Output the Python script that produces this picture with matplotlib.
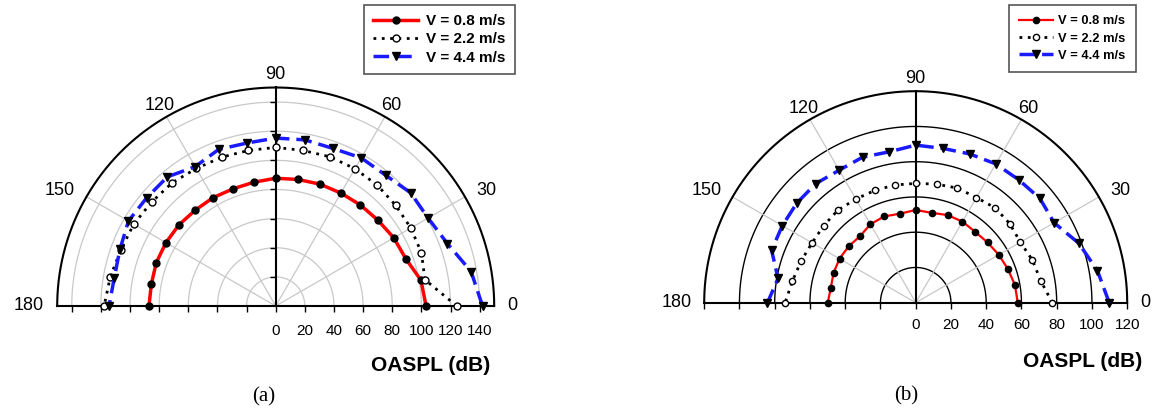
import numpy as np
import matplotlib
matplotlib.use('Agg')
import matplotlib.pyplot as plt

plt.rcParams['font.family'] = 'Liberation Sans'

# directivity angles (deg) and OASPL (dB)
angles = [0, 10, 20, 30, 40, 50, 60, 70, 80, 90, 100, 110, 120, 130, 140, 150, 160, 170, 180]

a_v08 = [103.2, 101.3, 95.0, 93.6, 91.6, 90.5, 89.5, 89.0, 88.2, 87.7, 86.3, 85.6, 85.9, 85.9, 86.7, 87.0, 87.2, 86.7, 87.0]
a_v22 = [124.3, 104.0, 106.5, 107.1, 107.5, 108.4, 108.8, 109.0, 108.4, 108.9, 108.4, 108.7, 109.0, 110.5, 111.1, 112.5, 113.1, 115.3, 117.8]
a_v44 = [142.0, 136.2, 125.4, 120.8, 120.9, 117.3, 117.4, 115.1, 115.8, 115.3, 113.6, 114.4, 110.5, 115.7, 115.6, 116.7, 113.8, 112.5, 114.4]

b_v08 = [57.9, 57.2, 55.7, 54.4, 53.2, 52.5, 53.1, 52.9, 51.8, 52.6, 51.3, 52.1, 51.4, 49.2, 49.7, 49.9, 49.6, 48.9, 49.9]
b_v22 = [77.5, 72.0, 70.5, 68.6, 69.7, 70.2, 68.9, 69.2, 68.3, 67.7, 67.8, 67.8, 67.9, 68.6, 68.1, 67.9, 69.2, 71.0, 74.1]
b_v44 = [109.8, 104.7, 98.5, 90.7, 92.0, 91.0, 90.9, 89.8, 88.9, 89.4, 86.9, 87.9, 86.8, 88.2, 88.0, 87.4, 87.0, 79.3, 84.1]

labels = ['V = 0.8 m/s', 'V = 2.2 m/s', 'V = 4.4 m/s']
angle_ticks = [0, 30, 60, 90, 120, 150, 180]

W, H = 1156, 411
fig = plt.figure(figsize=(W / 100, H / 100), dpi=100)


def setup_panel(ax, rmax, tick_max, ring_color, ring_lw, vticks, pad):
    ax.set_xlim(-rmax, rmax)
    ax.set_ylim(0, rmax)
    ax.patch.set_visible(False)
    for s in ['top', 'right']:
        ax.spines[s].set_visible(False)
    ax.spines['bottom'].set_linewidth(1.5)
    ax.spines['left'].set_position(('data', 0))
    ax.spines['left'].set_linewidth(1.5)

    th = np.linspace(0, np.pi, 300)
    # rings every 20 dB
    for r in range(20, rmax, 20):
        ax.plot(r * np.cos(th), r * np.sin(th), color=ring_color, lw=ring_lw, zorder=1)
    ax.plot(rmax * np.cos(th), rmax * np.sin(th), color='black', lw=1.5, zorder=2, clip_on=False)
    # radial spokes
    for a in [30, 60, 120, 150]:
        t = np.deg2rad(a)
        ax.plot([0, rmax * np.cos(t)], [0, rmax * np.sin(t)], color='#c8c8c8', lw=0.9, zorder=1)

    ticks = list(range(-tick_max, tick_max + 1, 20))
    ax.set_xticks(ticks)
    ax.set_xticklabels([str(t) if t >= 0 else '' for t in ticks])
    ax.tick_params(axis='x', direction='out', length=4, width=1, labelsize=11, pad=pad)
    if vticks:
        ax.set_yticks(list(range(20, tick_max + 1, 20)))
        ax.tick_params(axis='y', direction='out', length=4, width=1, labelleft=False)
    else:
        ax.set_yticks([])

    for a in angle_ticks:
        t = np.deg2rad(a)
        c = np.cos(t)
        ha = 'left' if c > 0.6 else ('right' if c < -0.6 else 'center')
        ax.text(1.06 * rmax * c, 1.06 * rmax * np.sin(t), str(a), ha=ha, va='center',
                fontsize=13, clip_on=False)


def draw_series(ax, vals, ms_scale, lw_red):
    t = np.deg2rad(angles)
    v08, v22, v44 = [np.array(v) for v in vals]
    ax.plot(v08 * np.cos(t), v08 * np.sin(t), color='red', lw=lw_red, marker='o',
            mfc='black', mec='black', ms=5 * ms_scale, clip_on=False, zorder=4, label=labels[0])
    ax.plot(v22 * np.cos(t), v22 * np.sin(t), color='black', lw=2, ls=(0, (1, 2)), marker='o',
            mfc='white', mec='black', mew=1, ms=5 * ms_scale, clip_on=False, zorder=4, label=labels[1])
    ax.plot(v44 * np.cos(t), v44 * np.sin(t), color='#1a1aff', lw=2.5, ls=(0, (4.5, 2)), marker='v',
            mfc='black', mec='black', ms=6 * ms_scale, clip_on=False, zorder=4, label=labels[2])


# panel (a)
ax_a = fig.add_axes([57.2 / W, 105 / H, 437 / W, 218.5 / H])
setup_panel(ax_a, 150, 140, '#c8c8c8', 0.9, True, 9)
draw_series(ax_a, [a_v08, a_v22, a_v44], 1.0, 2.5)
leg = ax_a.legend(loc='upper right', bbox_to_anchor=(515 / W, 1 - 5 / H), bbox_transform=fig.transFigure,
                  fancybox=False, edgecolor='#555555', framealpha=1, borderaxespad=0,
                  prop={'weight': 'bold', 'size': 11}, handlelength=2.95, labelspacing=0.28,
                  handletextpad=0.55, borderpad=0.6)
leg.get_frame().set_linewidth(1.2)

# panel (b)
ax_b = fig.add_axes([704.2 / W, 108.3 / H, 423 / W, 211.5 / H])
setup_panel(ax_b, 120, 120, 'black', 1.0, False, 7)
draw_series(ax_b, [b_v08, b_v22, b_v44], 0.9, 1.6)
leg = ax_b.legend(loc='upper right', bbox_to_anchor=(1136 / W, 1 - 5 / H), bbox_transform=fig.transFigure,
                  fancybox=False, edgecolor='#555555', framealpha=1, borderaxespad=0,
                  prop={'weight': 'bold', 'size': 9.3}, handlelength=2.6, labelspacing=0.4,
                  handletextpad=0.45, borderpad=0.8)
leg.get_frame().set_linewidth(1.2)

fig.text(431 / W, 1 - 365 / H, 'OASPL (dB)', ha='center', va='center', fontsize=15, weight='bold')
fig.text(1083 / W, 1 - 361 / H, 'OASPL (dB)', ha='center', va='center', fontsize=15, weight='bold')
fig.text(264 / W, 1 - 397 / H, '(a)', ha='center', va='center', fontsize=15, family='Liberation Serif')
fig.text(906 / W, 1 - 396 / H, '(b)', ha='center', va='center', fontsize=15, family='Liberation Serif')

fig.savefig('out.png', dpi=100)
